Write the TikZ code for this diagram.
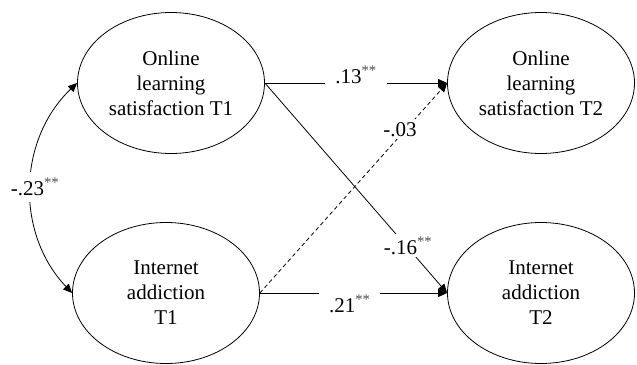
\documentclass[tikz,border=0pt]{standalone}
\usepackage{fontspec}
\newfontfamily\pathfont{Liberation Serif}
\usepackage{xcolor}
\colorlet{colStar}{black!70}
\newcommand{\sigmark}{\textsuperscript{\color{colStar}**}}
\usetikzlibrary{arrows.meta, shapes.geometric}

\begin{document}
\begin{tikzpicture}[
		x=1pt, y=-1pt,
		>={Triangle[length=9pt, width=8pt]},
		font=\pathfont\fontsize{21}{25}\selectfont,
		latent/.style={draw, ellipse, line width=0.8pt, minimum width=187pt,
			minimum height=141pt, inner sep=0pt, align=center},
		coef/.style={fill=white, inner xsep=8pt, inner ysep=6pt}
	]
	\useasboundingbox (0,0) rectangle (637,364);

	\node[latent] (sat1) at (171, 83) {Online\\learning\\satisfaction T1};
	\node[latent] (sat2) at (541, 83) {Online\\learning\\satisfaction T2};
	\node[latent] (add1) at (166, 293) {Internet\\addiction\\T1};
	\node[latent] (add2) at (541, 293) {Internet\\addiction\\T2};

	% stability paths
	\draw[->, line width=0.8pt] (sat1.east) -- (sat2.west)
		node[coef, midway, yshift=8pt, inner xsep=10pt] {.13\sigmark};
	\draw[->, line width=0.8pt] (add1.east) -- (add2.west)
		node[coef, pos=0.48, yshift=-11pt, inner xsep=10pt] {.21\sigmark};

	% cross-lagged paths
	\draw[->, line width=0.8pt, dash pattern=on 4pt off 3pt] (add1.east) -- (sat2.west)
		node[coef, pos=0.78, xshift=-6pt, inner sep=3pt] {-.03};
	\draw[->, line width=0.8pt] (sat1.east) -- (add2.west)
		node[coef, pos=0.775, xshift=2pt, inner sep=3pt] {-.16\sigmark};

	% correlation at T1
	\draw[<->, line width=0.8pt] (sat1.west) to[bend right=45]
		node[coef, midway, xshift=4pt, inner xsep=2pt] {-.23\sigmark} (add1.west);
\end{tikzpicture}
\end{document}
